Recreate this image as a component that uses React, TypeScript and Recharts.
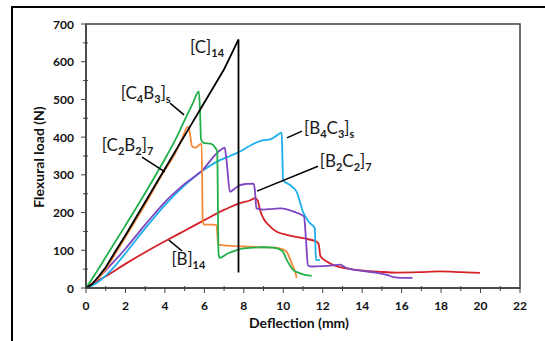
import React from 'react';
import { LineChart, Line, XAxis, YAxis, ReferenceArea, ReferenceLine, ReferenceDot, Label } from 'recharts';

type Pt = { x: number; y: number };
const mk = (a: number[][]): Pt[] => a.map(([x, y]) => ({ x, y }));

// Deflection (mm) vs Flexural load (N)
const seriesC14 = mk([[0,0],[0.3,10],[0.6,28],[1,55],[1.5,98],[2,140],[3,228],[4,316],[5,404],[6,492],[7,580],[7.3,612],[7.73,659],[7.73,41]]);
const seriesC2B2 = mk([[0,0],[0.5,20],[1,50],[1.5,92],[2,135],[3,222],[3.9,305],[4.5,355],[4.9,400],[5.15,427],[5.25,415],[5.38,375],[5.55,372],[5.75,380],[5.86,383],[5.92,175],[6.0,168],[6.4,168],[6.62,167],[6.7,115],[7,113],[8,110],[9,108],[9.6,107],[9.9,104],[10.17,96],[10.43,65],[10.6,43],[10.68,27]]);
const seriesC4B3 = mk([[0,0],[0.5,40],[1,82],[2,166],[3,252],[4,342],[4.5,390],[5,445],[5.4,488],[5.72,521],[5.78,470],[5.83,395],[5.95,385],[6.35,382],[6.55,372],[6.65,362],[6.72,90],[6.78,80],[7.2,92],[7.6,100],[8,105],[9,108],[9.5,107],[9.95,98],[10.2,72],[10.5,48],[10.85,39],[11.44,32]]);
const seriesB4C3 = mk([[0,0],[0.5,12],[1,33],[1.5,60],[2,92],[3,158],[4,220],[5,272],[6,314],[6.79,339],[7.3,350],[7.81,362],[8.4,380],[8.99,392],[9.33,394],[9.58,401],[9.92,412],[9.95,360],[9.99,286],[10.34,273],[10.68,255],[11.0,202],[11.3,175],[11.6,158],[11.63,110],[11.66,74],[11.86,74]]);
const seriesB2C2 = mk([[0,0],[0.5,20],[1,47],[2,104],[3,168],[4,228],[5,276],[6,318],[6.45,347],[6.8,365],[7.03,372],[7.12,340],[7.3,255],[7.5,262],[7.81,273],[8.15,276],[8.5,277],[8.56,260],[8.64,211],[9,208],[9.5,210],[9.9,211],[10.5,203],[11.05,190],[11.15,130],[11.25,60],[11.4,57],[12,58],[12.5,60],[12.88,62],[13.2,53],[13.9,46],[14.9,39],[15.3,34],[15.58,29],[16,27],[16.55,27]]);
const seriesB14 = mk([[0,0],[0.5,16],[1,31],[2,64],[3,95],[4,124],[5,152],[6,180],[7,207],[7.8,225],[8.3,232],[8.57,238],[8.7,232],[8.82,207],[8.99,185],[9.3,165],[9.67,149],[10.17,141],[11,132],[11.69,123],[11.8,115],[11.88,85],[12.2,70],[12.7,58],[13.2,52],[14.06,46],[14.9,43],[15.75,41],[16.9,42],[17.94,44],[19,42],[19.97,40]]);

const xTicks = Array.from({ length: 23 }, (_, i) => i);
const yTicks = Array.from({ length: 15 }, (_, i) => i * 50);

// annotation anchors (data units)
type Part = { t: string; sub?: boolean };
const labels: { x: number; y: number; parts: Part[] }[] = [
  { x: 5.27, y: 623, parts: [{ t: '[C]' }, { t: '14', sub: true }] },
  { x: 1.76, y: 501, parts: [{ t: '[C' }, { t: '4', sub: true }, { t: 'B' }, { t: '3', sub: true }, { t: ']' }, { t: 's', sub: true }] },
  { x: 0.8, y: 363, parts: [{ t: '[C' }, { t: '2', sub: true }, { t: 'B' }, { t: '2', sub: true }, { t: ']' }, { t: '7', sub: true }] },
  { x: 4.33, y: 60, parts: [{ t: '[B]' }, { t: '14', sub: true }] },
  { x: 11.05, y: 408, parts: [{ t: '[B' }, { t: '4', sub: true }, { t: 'C' }, { t: '3', sub: true }, { t: ']' }, { t: 's', sub: true }] },
  { x: 11.85, y: 321, parts: [{ t: '[B' }, { t: '2', sub: true }, { t: 'C' }, { t: '2', sub: true }, { t: ']' }, { t: '7', sub: true }] },
];
const leaders: [number, number, number, number][] = [
  [4.26, 490, 4.97, 459],
  [2.84, 347, 4.0, 308],
  [4.2, 127, 4.87, 98],
  [10.95, 416, 10.19, 398],
  [11.76, 323, 8.67, 257],
];

const FONT = 'Lato, Carlito, Calibri, sans-serif';
const AXIS = '#404040';

const XTick = (p: any) => {
  const v = p.payload.value;
  const major = v % 2 === 0;
  return (
    <g>
      <line x1={p.x} x2={p.x} y1={major ? p.y : p.y - 2} y2={p.y + (major ? 5 : 3)} stroke={AXIS} strokeWidth={1} />
      {major && (
        <text x={p.x} y={p.y + 17} textAnchor="middle" dominantBaseline="central" fontFamily={FONT} fontWeight={700} fontSize={12} fill="#111">
          {v}
        </text>
      )}
    </g>
  );
};

const YTick = (p: any) => {
  const v = p.payload.value;
  const major = v % 100 === 0;
  return (
    <g>
      <line y1={p.y} y2={p.y} x1={p.x - (major ? 5 : 3)} x2={major ? p.x : p.x + 2} stroke={AXIS} strokeWidth={1} />
      {major && (
        <text x={p.x - 12} y={p.y} textAnchor="end" dominantBaseline="central" fontFamily={FONT} fontWeight={700} fontSize={12} fill="#111">
          {v}
        </text>
      )}
    </g>
  );
};

const makeLabelShape = (parts: Part[]) => (p: any) => (
  <text x={p.cx} y={p.cy} fontFamily={FONT} fontSize={17} fill="#1a1a1a">
    {parts.map((pt, i) => {
      const prevSub = i > 0 && parts[i - 1].sub;
      const dy = pt.sub ? (prevSub ? 0 : 4) : prevSub ? -4 : 0;
      return (
        <tspan key={i} dy={dy} fontSize={pt.sub ? 11 : 17} fontWeight={pt.sub ? 700 : 400}>
          {pt.t}
        </tspan>
      );
    })}
  </text>
);

const series: { data: Pt[]; color: string; type: 'linear' | 'monotone' }[] = [
  { data: seriesB14, color: '#D42328', type: 'monotone' },
  { data: seriesB4C3, color: '#1CAEEE', type: 'monotone' },
  { data: seriesB2C2, color: '#7E44C2', type: 'monotone' },
  { data: seriesC2B2, color: '#F7883A', type: 'monotone' },
  { data: seriesC4B3, color: '#22B04B', type: 'monotone' },
  { data: seriesC14, color: '#000000', type: 'linear' },
];

export default function App() {
  return (
    <div style={{ position: 'absolute', left: 0, top: 0, width: 545, height: 341, overflow: 'hidden', background: '#fff' }}>
      <div style={{ position: 'absolute', left: 11, top: 6, width: 700, height: 500, borderLeft: '2px solid #000', borderTop: '2px solid #000' }} />
      <div style={{ position: 'absolute', left: 0, top: 0 }}>
        <LineChart width={545} height={341} margin={{ top: 24, right: 25, bottom: 0, left: 0 }}>
          <XAxis
            type="number"
            dataKey="x"
            domain={[0, 22]}
            ticks={xTicks}
            interval={0}
            tickLine={false}
            tickSize={0}
            tickMargin={0}
            height={53}
            axisLine={{ stroke: AXIS, strokeWidth: 1.5 }}
            tick={(p: any) => <XTick {...p} />}
            allowDataOverflow
          >
            <Label
              content={(lp: any) => {
                const vb = lp.viewBox;
                return (
                  <text x={vb.x + vb.width / 2 - 4} y={322} textAnchor="middle" dominantBaseline="central" fontFamily={FONT} fontWeight={700} fontSize={14} fill="#111">
                    Deflection (mm)
                  </text>
                );
              }}
            />
          </XAxis>
          <YAxis
            type="number"
            domain={[0, 700]}
            ticks={yTicks}
            interval={0}
            tickLine={false}
            tickSize={0}
            tickMargin={0}
            width={86}
            axisLine={{ stroke: AXIS, strokeWidth: 1.5 }}
            tick={(p: any) => <YTick {...p} />}
            allowDataOverflow
          >
            <Label
              content={(lp: any) => {
                const vb = lp.viewBox;
                const cx = 38;
                const cy = vb.y + vb.height / 2 + 1;
                return (
                  <text x={cx} y={cy} transform={`rotate(-90 ${cx} ${cy})`} textAnchor="middle" dominantBaseline="central" fontFamily={FONT} fontWeight={700} fontSize={14} fill="#111">
                    Flexural load (N)
                  </text>
                );
              }}
            />
          </YAxis>
          <ReferenceArea x1={0} x2={22} y1={0} y2={700} fill="none" stroke={AXIS} strokeWidth={1.5} />
          {series.map((s, i) => (
            <Line
              key={i}
              data={s.data}
              dataKey="y"
              type={s.type}
              stroke={s.color}
              strokeWidth={1.8}
              dot={false}
              activeDot={false}
              isAnimationActive={false}
            />
          ))}
          {leaders.map((l, i) => (
            <ReferenceLine
              key={'l' + i}
              segment={[{ x: l[0], y: l[1] }, { x: l[2], y: l[3] }]}
              stroke="#000"
              strokeWidth={1.5}
            />
          ))}
          {labels.map((lb, i) => (
            <ReferenceDot key={'t' + i} x={lb.x} y={lb.y} r={0} shape={makeLabelShape(lb.parts)} />
          ))}
        </LineChart>
      </div>
    </div>
  );
}
